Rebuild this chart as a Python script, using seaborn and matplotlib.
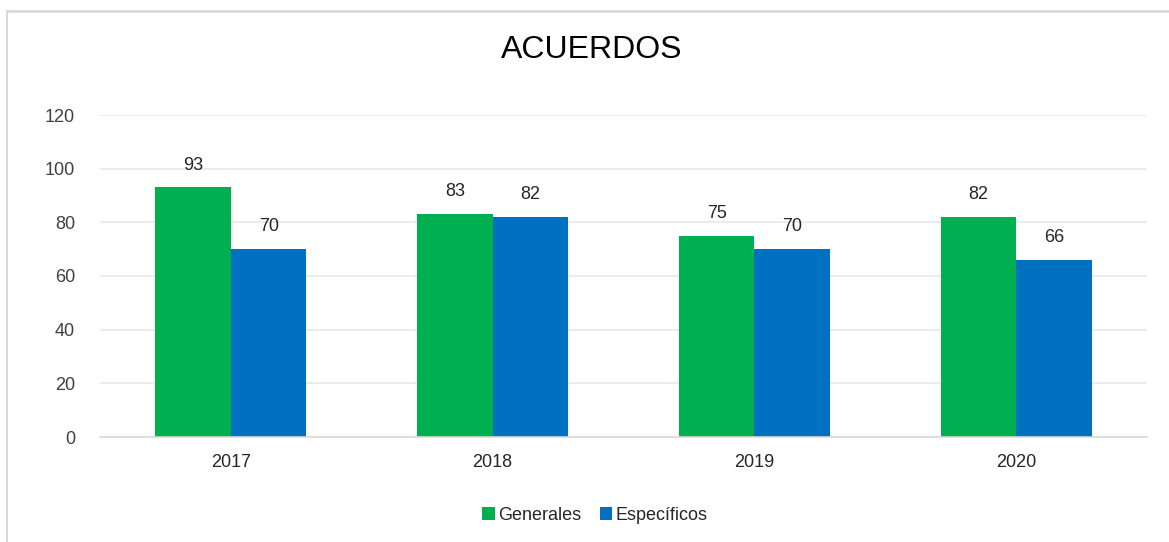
import pandas as pd
import matplotlib.pyplot as plt
import seaborn as sns
from matplotlib.lines import Line2D

# Data
years = ['2017', '2018', '2019', '2020']
generales = [93, 83, 75, 82]
especificos = [70, 82, 70, 66]

df = pd.DataFrame({
    'year': years * 2,
    'value': generales + especificos,
    'tipo': ['Generales'] * 4 + ['Específicos'] * 4,
})

sns.set_style('white')
plt.rcParams['font.family'] = ['Liberation Sans', 'DejaVu Sans']

fig = plt.figure(figsize=(11.69, 5.42), dpi=100)
ax = fig.add_axes([100 / 1169, 1 - 437 / 542, 1047 / 1169, 322 / 542])

sns.barplot(data=df, x='year', y='value', hue='tipo', ax=ax,
            palette=['#00B050', '#0070C0'], width=0.577, saturation=1,
            edgecolor='none', linewidth=0)

# Data labels
for cont in ax.containers:
    ax.bar_label(cont, padding=10, fontsize=13, color='#262626')

ax.set_ylim(0, 120)
ax.set_xlim(-0.5, 3.5)
ax.set_yticks(range(0, 121, 20))
ax.yaxis.grid(True, color='#E8E8E8', linewidth=1.2)
ax.set_axisbelow(True)
ax.set_xlabel('')
ax.set_ylabel('')

for s in ['top', 'right', 'left']:
    ax.spines[s].set_visible(False)
ax.spines['bottom'].set_color('#D9D9D9')
ax.spines['bottom'].set_linewidth(1.2)

ax.tick_params(axis='x', length=0, pad=12, labelsize=13, labelcolor='#262626')
ax.tick_params(axis='y', length=0, pad=18, labelsize=13, labelcolor='#404040')
ax.set_xticks([-0.5, 0.5, 1.5, 2.5, 3.5], minor=True)
ax.tick_params(axis='x', which='minor', length=5, width=1.2, color='#D9D9D9')

# Legend at bottom
handles, labels = ax.get_legend_handles_labels()
ax.get_legend().remove()
fig.legend(handles, labels, loc='center', bbox_to_anchor=(0.509, 1 - 515 / 542),
           ncol=2, frameon=False, fontsize=13, handlelength=0.7, handleheight=0.7,
           handletextpad=0.2, columnspacing=1.0, labelcolor='#262626')

fig.suptitle('ACUERDOS', x=592 / 1169, y=1 - 50 / 542, va='center',
             fontsize=23, color='black')

# Chart border (top and left visible)
fig.add_artist(Line2D([7 / 1169, 1], [1 - 11 / 542, 1 - 11 / 542],
                      color='#D9D9D9', linewidth=2))
fig.add_artist(Line2D([7 / 1169, 7 / 1169], [0, 1 - 11 / 542],
                      color='#D9D9D9', linewidth=1.5))

fig.savefig('out.png', dpi=100)
plt.close()
